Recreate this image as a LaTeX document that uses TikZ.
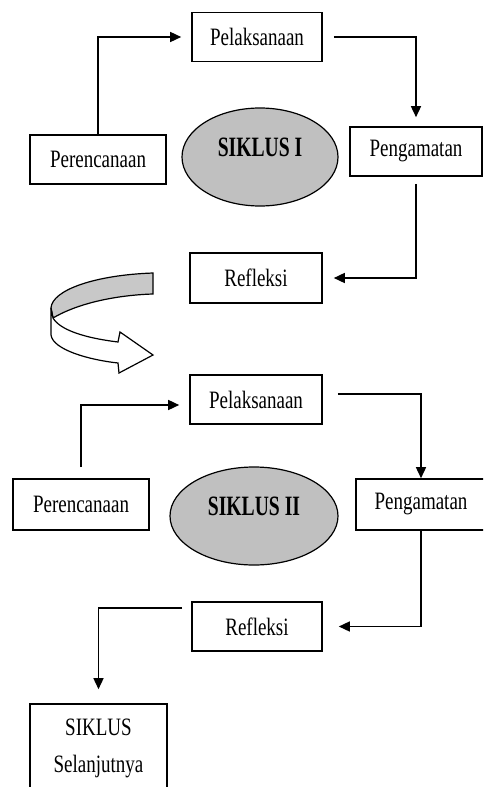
\documentclass[tikz,border=0pt]{standalone}
\usepackage{fontspec}
\setmainfont{Liberation Serif}[FakeStretch=0.76]
\newfontfamily\ovalfont{Liberation Serif}[FakeStretch=0.7]
\usetikzlibrary{arrows.meta,shapes.geometric}

\definecolor{ovalgray}{RGB}{192,192,192}
\definecolor{bandgray}{RGB}{200,200,200}

\tikzset{
  box/.style={draw, line width=1.6pt, minimum width=132pt, minimum height=49pt, inner sep=0pt, font=\fontsize{25}{37}\selectfont},
  oval/.style={ellipse, draw, line width=1.2pt, fill=ovalgray, inner sep=0pt, font=\ovalfont\fontsize{28}{32}\selectfont\bfseries},
  flow/.style={line width=1.5pt, -{Triangle[length=11pt,width=10pt]}}
}

\begin{document}
\begin{tikzpicture}[x=1pt,y=-1pt]
                \clip (0,0) rectangle (483,787);
                % siklus I
                \node[box, minimum width=130pt] (plk1) at (257,37) {Pelaksanaan};
                \node[box, minimum width=136pt] (per1) at (98,159.5) {Perencanaan};
                \node[box] (png1) at (416,151.5) {Pengamatan};
                \node[box, minimum height=50pt] (ref1) at (256,278) {Refleksi};
                \node[oval, minimum width=156pt, minimum height=98pt] (ell1) at (260,157) {\raisebox{20pt}{SIKLUS I}};
                \draw[flow, shorten >=10pt] (per1.north) |- (plk1.west);
                \draw[flow, shorten <=11pt, shorten >=9pt] (plk1.east) -| (png1.north);
                \draw[flow, shorten <=7pt, shorten >=11pt] (png1.south) |- (ref1.east);
                % curved arrow
                \filldraw[fill=bandgray, line width=1.2pt] (153,273) .. controls (95,275) and (52,290) .. (51,308) -- (53,318) .. controls (80,302) and (120,295) .. (153,294) -- cycle;
                \draw[fill=white, line width=1.2pt] (51,308) -- (51,335) .. controls (53,350) and (90,360) .. (118,363) -- (119,373) -- (153,355) -- (120,332) -- (118,342) .. controls (85,338) and (60,330) .. (53,318) -- cycle;
                % siklus II
                \node[box] (plk2) at (256,399.5) {Pelaksanaan};
                \node[box, minimum width=136pt, minimum height=51pt] (per2) at (81,504.5) {Perencanaan};
                \node[box, minimum width=130pt, minimum height=51pt] (png2) at (421,504.5) {Pengamatan};
                \node[box, minimum width=130pt] (ref2) at (257,626.5) {Refleksi};
                \node[oval, minimum width=168pt, minimum height=98pt] (ell2) at (254,516) {\raisebox{20pt}{SIKLUS II}};
                \node[box, minimum width=137pt, minimum height=88pt, align=center] (sel) at (98.5,748) {SIKLUS\\Selanjutnya};
                \draw[flow, shorten <=11pt, shorten >=10pt] (per2.north) |- ([yshift=-5.5pt]plk2.west);
                \draw[flow, shorten <=15pt] ([yshift=5.5pt]plk2.east) -| (png2.north);
                \draw[flow, shorten >=16pt] (png2.south) |- (ref2.east);
                \draw[flow, shorten <=9pt, shorten >=14pt] ([yshift=-7pt]ref2.north west) -| (sel.north);
            \end{tikzpicture}
\end{document}
